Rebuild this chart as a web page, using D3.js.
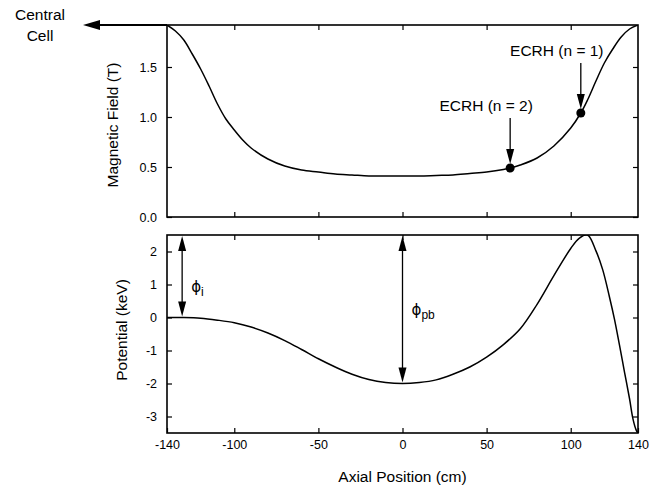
<!DOCTYPE html>
<html>
<head>
<meta charset="UTF-8">
<style>
  body { margin: 0; background: #fff; }
  svg { font-family: "Liberation Sans", Arial, sans-serif; }
  .tick text { font-size: 12.5px; fill: #000; }
  .tick line { stroke: #000; stroke-width: 1.2; }
  .title { font-size: 15.5px; fill: #000; }
  .phi { font-family: "DejaVu Sans", sans-serif; fill: #000; }
</style>
</head>
<body>
<svg width="672" height="497"></svg>
<script src="https://d3js.org/d3.v7.min.js"></script>
<script>

// axial position ticks (cm)
let xTicks = [-140, -100, -50, 0, 50, 100, 140];

// magnetic field (T) vs axial position (cm)
let fieldPos = [-140, -135, -130, -125, -120, -115, -110, -105, -100, -95, -90, -80, -70, -60, -50, -40, -30, -20, -10, 0, 10, 20, 30, 40, 50, 60, 64, 70, 80, 90, 100, 106, 110, 115, 120, 125, 130, 135, 140];
let fieldVal = [1.92, 1.86, 1.77, 1.63, 1.48, 1.31, 1.13, 0.98, 0.87, 0.77, 0.69, 0.58, 0.51, 0.47, 0.45, 0.43, 0.42, 0.41, 0.41, 0.41, 0.41, 0.415, 0.42, 0.435, 0.45, 0.475, 0.49, 0.52, 0.59, 0.71, 0.89, 1.04, 1.17, 1.36, 1.54, 1.68, 1.80, 1.88, 1.92];
let fieldTicks = [0, 0.5, 1.0, 1.5];

// potential (keV) vs axial position (cm)
let potPos = [-140, -130, -120, -110, -100, -90, -80, -70, -60, -50, -40, -30, -20, -10, 0, 10, 20, 30, 40, 50, 60, 70, 80, 90, 100, 105, 110, 115, 119, 123, 126, 129, 132, 135, 137, 139, 140];
let potVal = [0.0, 0.0, -0.02, -0.08, -0.16, -0.29, -0.47, -0.70, -0.97, -1.25, -1.50, -1.72, -1.88, -1.97, -2.0, -1.97, -1.89, -1.72, -1.50, -1.20, -0.82, -0.34, 0.40, 1.27, 2.09, 2.40, 2.50, 2.02, 1.45, 0.63, -0.05, -0.84, -1.66, -2.47, -3.07, -3.42, -3.5];
let potTicks = [-3, -2, -1, 0, 1, 2];

// ECRH resonance markers
let ecrhLabels = ["ECRH (n = 2)", "ECRH (n = 1)"];
let ecrhPos = [64, 106];
let ecrhVal = [0.49, 1.04];

// potential arrows: phi_i and phi_pb
let phiSubs = ["i", "pb"];
let phiPos = [-131, 0];
let phiFrom = [2.5, 2.5];
let phiTo = [0, -2.0];

let svg = d3.select("svg");

let left = 167, right = 638;
let x = d3.scaleLinear().domain([-140, 140]).range([left, right]);
let yB = d3.scaleLinear().domain([0, 1.92]).range([217, 25]);
let yP = d3.scaleLinear().domain([-3.5, 2.5]).range([433, 235]);

function arrowHead(g, tx, ty, dir) {
  // dir: +1 pointing down, -1 pointing up
  let len = 15, hw = 4;
  g.append("path")
    .attr("d", `M${tx},${ty} L${tx - hw},${ty - dir * len} L${tx + hw},${ty - dir * len} Z`)
    .attr("fill", "#000");
}

function panel(y, ticks, fmt, id, labelled) {
  let g = svg.append("g");
  let y0 = y.range()[0], y1 = y.range()[1];

  g.append("clipPath").attr("id", id)
    .append("rect").attr("x", left).attr("y", y1)
    .attr("width", right - left).attr("height", y0 - y1);

  g.append("g").attr("transform", `translate(${left},0)`)
    .call(d3.axisLeft(y).tickValues(ticks).tickFormat(fmt).tickSizeInner(-5).tickSizeOuter(0).tickPadding(10))
    .call(a => a.select(".domain").remove());
  g.append("g").attr("transform", `translate(${right},0)`)
    .call(d3.axisRight(y).tickValues(ticks).tickFormat("").tickSizeInner(-5).tickSizeOuter(0))
    .call(a => a.select(".domain").remove());
  g.append("g").attr("transform", `translate(0,${y1})`)
    .call(d3.axisTop(x).tickValues(xTicks.slice(1, -1)).tickFormat("").tickSizeInner(-5).tickSizeOuter(0))
    .call(a => a.select(".domain").remove());
  g.append("g").attr("transform", `translate(0,${y0})`)
    .call(d3.axisBottom(x).tickValues(labelled ? xTicks : xTicks.slice(1, -1))
      .tickFormat(labelled ? d3.format("d") : "").tickSizeInner(-5).tickSizeOuter(0).tickPadding(7))
    .call(a => a.select(".domain").remove());

  g.selectAll(".tick text").text(function() { return this.textContent.replace("\u2212", "-"); });

  g.append("rect")
    .attr("x", left).attr("y", y1)
    .attr("width", right - left).attr("height", y0 - y1)
    .attr("fill", "none").attr("stroke", "#000").attr("stroke-width", 1.6);
  return g;
}

// ---- top panel: magnetic field ----
let topG = panel(yB, fieldTicks, d3.format(".1f"), "clipB", false);
topG.append("path")
  .datum(fieldPos.map((p, i) => [p, fieldVal[i]]))
  .attr("clip-path", "url(#clipB)")
  .attr("fill", "none").attr("stroke", "#000").attr("stroke-width", 1.5)
  .attr("d", d3.line().x(d => x(d[0])).y(d => yB(d[1])).curve(d3.curveCatmullRom));

ecrhPos.forEach((p, i) => {
  let cx = x(p), cy = yB(ecrhVal[i]);
  topG.append("circle").attr("cx", cx).attr("cy", cy).attr("r", 4.5).attr("fill", "#000");
  topG.append("line").attr("x1", cx).attr("x2", cx).attr("y1", cy - 50).attr("y2", cy - 14)
    .attr("stroke", "#000").attr("stroke-width", 1.3);
  arrowHead(topG, cx, cy - 4, 1);
  topG.append("text").attr("class", "title")
    .attr("x", cx - 24).attr("y", cy - 57)
    .attr("text-anchor", "middle").text(ecrhLabels[i]);
});

svg.append("text").attr("class", "title")
  .attr("transform", `translate(118,${(yB.range()[0] + yB.range()[1]) / 2 + 4}) rotate(-90)`)
  .attr("text-anchor", "middle").text("Magnetic Field (T)");

// central cell arrow
let yTop = yB.range()[1];
svg.append("line").attr("x1", 96).attr("x2", left).attr("y1", yTop).attr("y2", yTop)
  .attr("stroke", "#000").attr("stroke-width", 1.8);
svg.append("path")
  .attr("d", `M83,${yTop} L100,${yTop - 5} L100,${yTop + 5} Z`)
  .attr("fill", "#000");
svg.append("text").attr("class", "title").attr("x", 40).attr("y", 20)
  .attr("text-anchor", "middle").text("Central");
svg.append("text").attr("class", "title").attr("x", 40).attr("y", 41)
  .attr("text-anchor", "middle").text("Cell");

// ---- bottom panel: potential ----
let botG = panel(yP, potTicks, d3.format("d"), "clipP", true);
botG.append("path")
  .datum(potPos.map((p, i) => [p, potVal[i]]))
  .attr("clip-path", "url(#clipP)")
  .attr("fill", "none").attr("stroke", "#000").attr("stroke-width", 1.5)
  .attr("d", d3.line().x(d => x(d[0])).y(d => yP(d[1])).curve(d3.curveCatmullRom));

phiPos.forEach((p, i) => {
  let cx = x(p), ya = yP(phiFrom[i]), yb = yP(phiTo[i]);
  botG.append("line").attr("x1", cx).attr("x2", cx).attr("y1", ya + 12).attr("y2", yb - 12)
    .attr("stroke", "#000").attr("stroke-width", 1.3);
  arrowHead(botG, cx, ya + 1, -1);
  arrowHead(botG, cx, yb - 1, 1);
  let t = botG.append("text").attr("class", "phi").style("font-size", "15px")
    .attr("x", cx + 9).attr("y", i == 0 ? 292 : 315);
  t.append("tspan").text("\u03d5");
  t.append("tspan").attr("dy", 4).style("font-family", "Liberation Sans, Arial, sans-serif")
    .style("font-size", "12px").text(phiSubs[i]);
});

svg.append("text").attr("class", "title")
  .attr("transform", `translate(127,${(yP.range()[0] + yP.range()[1]) / 2 - 4}) rotate(-90)`)
  .attr("text-anchor", "middle").text("Potential (keV)");

svg.append("text").attr("class", "title")
  .attr("x", (left + right) / 2).attr("y", 482)
  .attr("text-anchor", "middle").text("Axial Position (cm)");

</script>
</body>
</html>
